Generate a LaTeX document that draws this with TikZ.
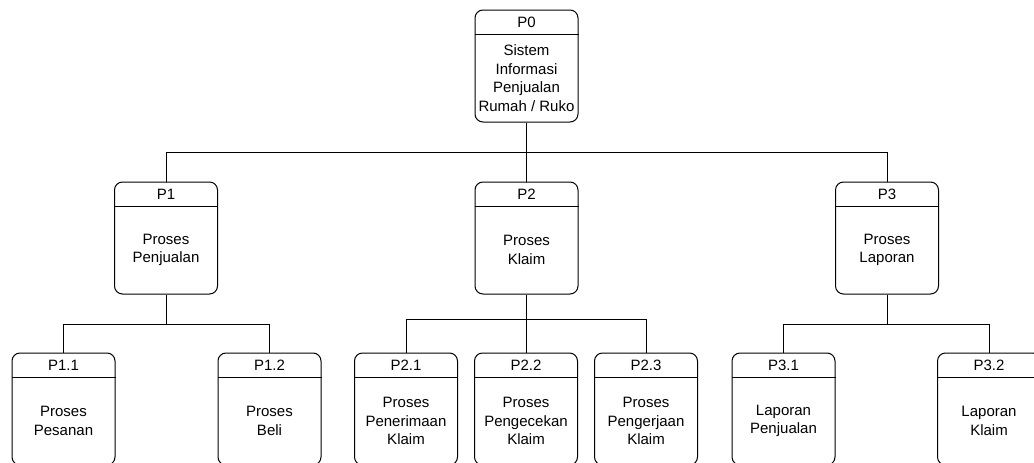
\documentclass[tikz,border=0pt]{standalone}
\usepackage{fontspec}
\setmainfont{Liberation Sans}
\tikzset{
  procbox/.style={draw, rounded corners=8pt, minimum width=103pt, minimum height=112pt, inner sep=0pt},
  proctext/.style={align=center, inner sep=0pt, font=\fontsize{15}{18.5}\selectfont},
}
\begin{document}
\begin{tikzpicture}[x=1pt,y=-1pt,line width=1pt]
    \useasboundingbox (0,0) rectangle (1034,463);
    % process boxes: name/x/y/id/text
    \foreach \n/\x/\y/\id/\txt in {
        p0/526.5/66/P0/{\fontsize{15}{17}\selectfont Sistem\\Informasi\\Penjualan\\Rumah / Ruko},
        p1/166/238/P1/{Proses\\Penjualan},
        p2/526.5/238/P2/{Proses\\Klaim},
        p3/887/238/P3/{Proses\\Laporan},
        p11/63.5/409/P1.1/{Proses\\Pesanan},
        p12/269.5/409/P1.2/{Proses\\Beli},
        p21/406/409/P2.1/{Proses\\Penerimaan\\Klaim},
        p22/526/409/P2.2/{Proses\\Pengecekan\\Klaim},
        p23/646/409/P2.3/{Proses\\Pengerjaan\\Klaim},
        p31/783.5/409/P3.1/{Laporan\\Penjualan},
        p32/989/409/P3.2/{Laporan\\Klaim}} {
        \node[procbox] (\n) at (\x,\y) {};
        \node[proctext] (\n-id) at ([yshift=-12.5pt]\n.north) {\id};
        \draw ([yshift=-25pt]\n.north west) -- ([yshift=-25pt]\n.north east);
        \node[proctext] (\n-txt) at ([yshift=-68.5pt]\n.north) {\txt};
    }
    % connectors
    \coordinate (j0) at (526.5,152);
    \coordinate (j1) at (166,324);
    \coordinate (j2) at (526.5,319.5);
    \coordinate (j3) at (887,324);
    \draw (p0.south) -- (j0);
    \draw (j0) -| (p1.north);
    \draw (j0) -- (p2.north);
    \draw (j0) -| (p3.north);
    \draw (p1.south) -- (j1);
    \draw (j1) -| (p11.north);
    \draw (j1) -| (p12.north);
    \draw (p2.south) -- (j2);
    \draw (j2) -| (p21.north);
    \draw (j2) -| (p22.north);
    \draw (j2) -| (p23.north);
    \draw (p3.south) -- (j3);
    \draw (j3) -| (p31.north);
    \draw (j3) -| (p32.north);
\end{tikzpicture}
\end{document}
